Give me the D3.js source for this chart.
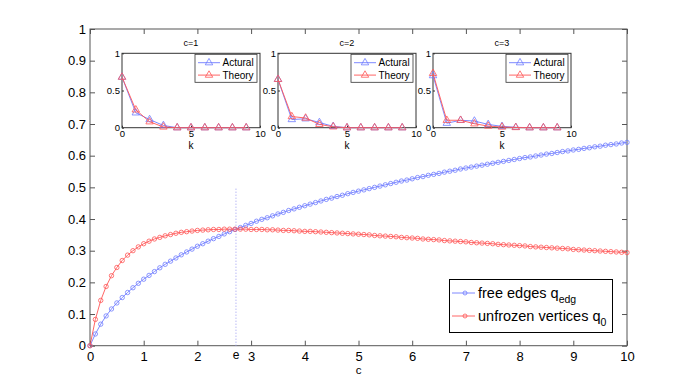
<!DOCTYPE html>
<html>
<head>
<meta charset="utf-8">
<script src="https://cdn.jsdelivr.net/npm/d3@7"></script>
<style>
  body { margin: 0; background: #fff; }
  svg { display: block; font-family: "Liberation Sans", Arial, sans-serif; }
</style>
</head>
<body>
<div id="chart"></div>
<script>
// main plot: x grid (c) and the two curves
const cValues = [
  0, 0.1, 0.2, 0.3, 0.4, 0.5, 0.6, 0.7, 0.8, 0.9, 1,
  1.1, 1.2, 1.3, 1.4, 1.5, 1.6, 1.7, 1.8, 1.9, 2,
  2.1, 2.2, 2.3, 2.4, 2.5, 2.6, 2.7, 2.8, 2.9, 3,
  3.1, 3.2, 3.3, 3.4, 3.5, 3.6, 3.7, 3.8, 3.9, 4,
  4.1, 4.2, 4.3, 4.4, 4.5, 4.6, 4.7, 4.8, 4.9, 5,
  5.1, 5.2, 5.3, 5.4, 5.5, 5.6, 5.7, 5.8, 5.9, 6,
  6.1, 6.2, 6.3, 6.4, 6.5, 6.6, 6.7, 6.8, 6.9, 7,
  7.1, 7.2, 7.3, 7.4, 7.5, 7.6, 7.7, 7.8, 7.9, 8,
  8.1, 8.2, 8.3, 8.4, 8.5, 8.6, 8.7, 8.8, 8.9, 9,
  9.1, 9.2, 9.3, 9.4, 9.5, 9.6, 9.7, 9.8, 9.9, 10
];

const freeEdges = [
  0,
  0.037, 0.068, 0.094, 0.116, 0.135, 0.152, 0.168, 0.183, 0.197, 0.210,
  0.222, 0.234, 0.246, 0.257, 0.267, 0.277, 0.287, 0.296, 0.305, 0.314,
  0.322, 0.330, 0.338, 0.345, 0.353, 0.360, 0.367, 0.373, 0.380, 0.386,
  0.393, 0.399, 0.404, 0.410, 0.416, 0.421, 0.427, 0.432, 0.437, 0.442,
  0.447, 0.452, 0.457, 0.462, 0.466, 0.471, 0.475, 0.480, 0.484, 0.488,
  0.492, 0.496, 0.500, 0.504, 0.508, 0.512, 0.516, 0.520, 0.523, 0.527,
  0.531, 0.534, 0.538, 0.541, 0.544, 0.548, 0.551, 0.554, 0.558, 0.561,
  0.564, 0.567, 0.570, 0.573, 0.576, 0.579, 0.582, 0.585, 0.588, 0.591,
  0.594, 0.596, 0.599, 0.602, 0.605, 0.607, 0.610, 0.613, 0.615, 0.618,
  0.620, 0.623, 0.625, 0.628, 0.630, 0.633, 0.635, 0.637, 0.640, 0.642
];

const unfrozen = [
  0,
  0.083, 0.143, 0.187, 0.221, 0.247, 0.269, 0.286, 0.300, 0.312, 0.322,
  0.330, 0.337, 0.342, 0.347, 0.351, 0.355, 0.358, 0.360, 0.362, 0.364,
  0.365, 0.366, 0.367, 0.367, 0.368, 0.368, 0.368, 0.368, 0.368, 0.367,
  0.367, 0.367, 0.366, 0.366, 0.365, 0.364, 0.364, 0.363, 0.362, 0.361,
  0.361, 0.360, 0.359, 0.358, 0.357, 0.356, 0.355, 0.354, 0.353, 0.352,
  0.351, 0.350, 0.348, 0.347, 0.346, 0.345, 0.344, 0.342, 0.341, 0.340,
  0.339, 0.337, 0.336, 0.335, 0.334, 0.332, 0.331, 0.330, 0.329, 0.328,
  0.326, 0.325, 0.324, 0.323, 0.322, 0.320, 0.319, 0.318, 0.317, 0.316,
  0.315, 0.313, 0.312, 0.311, 0.310, 0.309, 0.308, 0.307, 0.306, 0.304,
  0.303, 0.302, 0.301, 0.300, 0.299, 0.298, 0.297, 0.296, 0.295, 0.294
];

const xTicks = [0, 1, 2, 3, 4, 5, 6, 7, 8, 9, 10];
const yTicks = [0, 0.1, 0.2, 0.3, 0.4, 0.5, 0.6, 0.7, 0.8, 0.9, 1];
const eValue = 2.71828;

// insets: degree distributions for k = 0..9
const kValues = [0, 1, 2, 3, 4, 5, 6, 7, 8, 9];
const insetTitles = ["c=1", "c=2", "c=3"];
const actualC1 = [0.68, 0.20, 0.11, 0.03, 0, 0, 0, 0, 0, 0];
const theoryC1 = [0.68, 0.24, 0.08, 0.01, 0, 0, 0, 0, 0, 0];
const actualC2 = [0.65, 0.11, 0.12, 0.07, 0.018, 0, 0, 0, 0, 0];
const theoryC2 = [0.65, 0.15, 0.13, 0.045, 0.012, 0, 0, 0, 0, 0];
const actualC3 = [0.70, 0.06, 0.10, 0.09, 0.044, 0.018, 0.005, 0, 0, 0];
const theoryC3 = [0.73, 0.10, 0.10, 0.053, 0.022, 0.009, 0.003, 0, 0, 0];

const blue = "#6f7cff";
const red = "#ff5555";

var w = 692, h = 389;

var svg = d3.select("#chart").append("svg")
  .attr("width", w)
  .attr("height", h);

svg.append("rect").attr("width", w).attr("height", h).attr("fill", "#fff");

///////////////////////////// Main axes

var x = d3.scaleLinear().domain([0, 10]).range([90, 627]);
var y = d3.scaleLinear().domain([0, 1]).range([345.7, 29]);

var main = svg.append("g");

var xAxis = main.append("g")
  .attr("transform", "translate(0," + y(0) + ")")
  .call(d3.axisBottom(x).tickValues(xTicks).tickSize(-5).tickSizeOuter(0).tickPadding(5).tickFormat(d3.format("d")));

var yAxis = main.append("g")
  .attr("transform", "translate(" + x(0) + ",0)")
  .call(d3.axisLeft(y).tickValues(yTicks).tickSize(-5).tickSizeOuter(0).tickPadding(4).tickFormat(d => d === 0 ? "0" : d === 1 ? "1" : d3.format(".1f")(d)));

var xTop = main.append("g")
  .attr("transform", "translate(0," + y(1) + ")")
  .call(d3.axisTop(x).tickValues(xTicks).tickSize(-5).tickSizeOuter(0).tickFormat(""));

var yRight = main.append("g")
  .attr("transform", "translate(" + x(10) + ",0)")
  .call(d3.axisRight(y).tickValues(yTicks).tickSize(-5).tickSizeOuter(0).tickFormat(""));

[xAxis, yAxis, xTop, yRight].forEach(function (g) {
  g.select(".domain").remove();
  g.selectAll(".tick line").attr("stroke", "#555");
  g.selectAll("text")
    .attr("font-family", "'Liberation Sans', Arial, sans-serif")
    .attr("font-size", 13)
    .attr("fill", "#000");
});
xAxis.selectAll("text").attr("dy", "0.76em");

main.append("rect")
  .attr("x", x(0)).attr("y", y(1))
  .attr("width", x(10) - x(0)).attr("height", y(0) - y(1))
  .attr("fill", "none")
  .attr("stroke", "#555")
  .attr("stroke-width", 1);

// dotted marker at c = e
main.append("line")
  .attr("x1", x(eValue)).attr("x2", x(eValue))
  .attr("y1", y(0)).attr("y2", y(0.5))
  .attr("stroke", "#9a9af0")
  .attr("stroke-width", 1)
  .attr("stroke-dasharray", "1,2");

main.append("text")
  .attr("x", x(eValue)).attr("y", 359)
  .attr("text-anchor", "middle")
  .attr("font-size", 12)
  .text("e");

main.append("text")
  .attr("x", x(5)).attr("y", 374)
  .attr("text-anchor", "middle")
  .attr("font-size", 11.5)
  .text("c");

///////////////////////////// Main series

function drawSeries(values, color) {
  var data = cValues.map(function (c, i) { return { c: c, v: values[i] }; });
  var line = d3.line().x(d => x(d.c)).y(d => y(d.v));
  main.append("path")
    .datum(data)
    .attr("fill", "none")
    .attr("stroke", color)
    .attr("stroke-width", 0.9)
    .attr("d", line);
  main.append("g").selectAll("circle")
    .data(data)
    .join("circle")
    .attr("cx", d => x(d.c))
    .attr("cy", d => y(d.v))
    .attr("r", 2.2)
    .attr("fill", "none")
    .attr("stroke", color)
    .attr("stroke-width", 0.8);
}

drawSeries(freeEdges, blue);
drawSeries(unfrozen, red);

///////////////////////////// Main legend

var legend = main.append("g");
legend.append("rect")
  .attr("x", 449.5).attr("y", 279.5)
  .attr("width", 163).attr("height", 53)
  .attr("fill", "#fff")
  .attr("stroke", "#000")
  .attr("stroke-width", 1);

var legendItems = [
  { color: blue, label: "free edges q", sub: "edg", ly: 293, ty: 297.5 },
  { color: red, label: "unfrozen vertices q", sub: "0", ly: 316, ty: 320.5 }
];

legendItems.forEach(function (it) {
  legend.append("line")
    .attr("x1", 452).attr("x2", 475)
    .attr("y1", it.ly).attr("y2", it.ly)
    .attr("stroke", it.color).attr("stroke-width", 0.9);
  legend.append("circle")
    .attr("cx", 465).attr("cy", it.ly).attr("r", 2)
    .attr("fill", "none").attr("stroke", it.color).attr("stroke-width", 0.8);
  var t = legend.append("text")
    .attr("x", 478).attr("y", it.ty)
    .attr("font-size", 14.5)
    .text(it.label);
  t.append("tspan")
    .attr("dy", 5)
    .attr("font-size", 10.5)
    .text(it.sub);
});

///////////////////////////// Insets

var insetData = [
  { left: 122, actual: actualC1, theory: theoryC1 },
  { left: 278, actual: actualC2, theory: theoryC2 },
  { left: 433, actual: actualC3, theory: theoryC3 }
];

var tri = d3.symbol().type(d3.symbolTriangle).size(24);

insetData.forEach(function (inset, n) {
  var top = 53.3, iw = 138, ih = 74.4;
  var ix = d3.scaleLinear().domain([0, 10]).range([inset.left, inset.left + iw]);
  var iy = d3.scaleLinear().domain([0, 1]).range([top + ih, top]);

  var g = svg.append("g");

  g.append("rect")
    .attr("x", ix(0)).attr("y", iy(1))
    .attr("width", iw).attr("height", ih)
    .attr("fill", "#fff");

  var ax = g.append("g")
    .attr("transform", "translate(0," + iy(0) + ")")
    .call(d3.axisBottom(ix).tickValues([0, 5, 10]).tickSize(-2).tickSizeOuter(0).tickPadding(3).tickFormat(d3.format("d")));
  var ay = g.append("g")
    .attr("transform", "translate(" + ix(0) + ",0)")
    .call(d3.axisLeft(iy).tickValues([0, 0.5, 1]).tickSize(-2).tickSizeOuter(0).tickPadding(2).tickFormat(d => d === 0.5 ? "0.5" : String(d)));
  [ax, ay].forEach(function (a) {
    a.select(".domain").remove();
    a.selectAll(".tick line").attr("stroke", "#333");
    a.selectAll("text")
      .attr("font-family", "'Liberation Sans', Arial, sans-serif")
      .attr("font-size", 9.5)
      .attr("fill", "#000");
  });

  g.append("rect")
    .attr("x", ix(0)).attr("y", iy(1))
    .attr("width", iw).attr("height", ih)
    .attr("fill", "none")
    .attr("stroke", "#333")
    .attr("stroke-width", 1);

  g.append("text")
    .attr("x", ix(5)).attr("y", top - 7)
    .attr("text-anchor", "middle")
    .attr("font-size", 9)
    .text(insetTitles[n]);

  g.append("text")
    .attr("x", ix(5)).attr("y", top + ih + 21)
    .attr("text-anchor", "middle")
    .attr("font-size", 10)
    .text("k");

  var line = d3.line().x(d => ix(d.k)).y(d => iy(d.v));
  [[inset.actual, blue], [inset.theory, red]].forEach(function (s) {
    var data = kValues.map(function (k, i) { return { k: k, v: s[0][i] }; });
    g.append("path")
      .datum(data)
      .attr("fill", "none")
      .attr("stroke", s[1])
      .attr("stroke-width", 0.9)
      .attr("d", line);
    g.append("g").selectAll("path")
      .data(data)
      .join("path")
      .attr("transform", d => "translate(" + ix(d.k) + "," + iy(d.v) + ")")
      .attr("d", tri)
      .attr("fill", "none")
      .attr("stroke", s[1])
      .attr("stroke-width", 0.8);
  });

  // inset legend
  var bx = ix(10) - 65, by = top + 1;
  g.append("rect")
    .attr("x", bx).attr("y", by)
    .attr("width", 62).attr("height", 28)
    .attr("fill", "#fff")
    .attr("stroke", "#333")
    .attr("stroke-width", 0.8);
  [["Actural", blue, 8.4], ["Theory", red, 20.8]].forEach(function (it) {
    g.append("line")
      .attr("x1", bx + 3).attr("x2", bx + 25)
      .attr("y1", by + it[2]).attr("y2", by + it[2])
      .attr("stroke", it[1]).attr("stroke-width", 0.9);
    g.append("path")
      .attr("transform", "translate(" + (bx + 14) + "," + (by + it[2]) + ")")
      .attr("d", tri)
      .attr("fill", "none")
      .attr("stroke", it[1])
      .attr("stroke-width", 0.8);
    g.append("text")
      .attr("x", bx + 27.5).attr("y", by + it[2] + 3.6)
      .attr("font-size", 10)
      .text(it[0]);
  });
});
</script>
</body>
</html>
